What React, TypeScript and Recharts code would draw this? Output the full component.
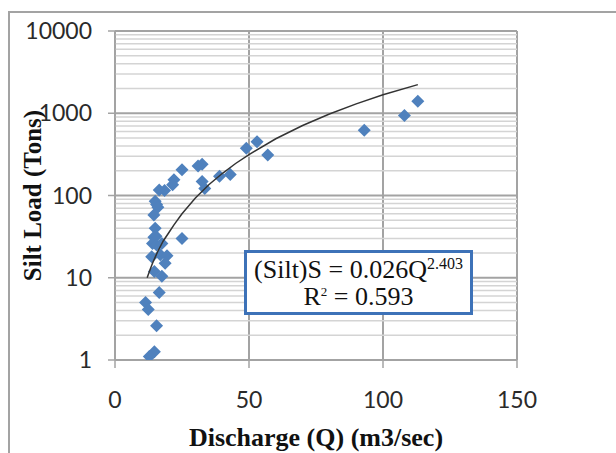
import { ScatterChart, Scatter, XAxis, YAxis, CartesianGrid, ReferenceLine } from 'recharts'

// observed points: discharge Q (m3/sec) and silt load S (tons)
const dischargeQ = [
  113, 108, 93, 57, 53, 49, 43, 39, 33.5, 32.5, 32.5, 31, 25, 22, 21.5, 18.5, 16.5,
  25, 15, 15.5, 16, 14.5, 15, 14.5, 15.3, 14, 15.5, 17.5, 13.7, 16.9, 19.4, 18.7,
  17.5, 14.7, 16.5, 11.4, 12.4, 15.5, 14.7, 12.8,
]
const siltLoad = [
  1400, 940, 620, 310, 450, 375, 180, 172, 122, 148, 240, 228, 205, 155, 135, 115, 117,
  30, 85, 78, 72, 58, 40, 31, 32, 26, 25, 26, 18, 19, 18.5, 15,
  10.4, 11.9, 6.6, 5, 4.1, 2.6, 1.26, 1.1,
]

// power trendline as drawn in the chart
const trendQ = [12, 13, 14, 15, 16, 18, 20, 22, 25, 30, 35, 40, 45, 50, 60, 70, 80, 90, 100, 113]
const trendS = [10, 12.3, 15, 17.8, 21, 28, 35, 44, 60, 93, 135, 185, 245, 315, 490, 710, 980, 1300, 1680, 2230]

const xTicks = [0, 50, 100, 150]
const yTicks = [1, 10, 100, 1000, 10000]
const minorSteps = [2, 3, 4, 5, 6, 7, 8, 9]
const minorY = yTicks.slice(0, -1).flatMap((d) => minorSteps.map((m) => d * m))

const points = dischargeQ.map((q, i) => ({ q, s: siltLoad[i] }))
const trend = trendQ.map((q, i) => ({ q, s: trendS[i] }))

const tickFont = { fontFamily: 'Lato', fontSize: 23, fill: '#2a2a2a' }

const Diamond = (p: any) => {
  const { cx, cy } = p
  if (cx == null || cy == null) return <g />
  const r = 6.5
  return (
    <polygon
      points={`${cx},${cy - r} ${cx + r},${cy} ${cx},${cy + r} ${cx - r},${cy}`}
      fill="#4F81BD"
    />
  )
}

export default function App() {
  return (
    <div style={{ position: 'absolute', left: 0, top: 0, width: 616, height: 453, overflow: 'hidden', background: '#fff' }}>
      <div style={{ position: 'absolute', left: 8, top: 11, width: 700, height: 600, border: '2px solid #a3a3a3' }} />
      <div style={{ position: 'absolute', left: 0, top: 0 }}>
        <ScatterChart width={616} height={453} margin={{ top: 31, right: 99, bottom: 8, left: 15 }}>
          <CartesianGrid stroke="#a3a3a3" strokeWidth={2} />
          {minorY.map((v) => (
            <ReferenceLine key={v} y={v} stroke="#d4d4d4" strokeWidth={1.5} />
          ))}
          <XAxis
            type="number"
            dataKey="q"
            domain={[0, 150]}
            ticks={xTicks}
            allowDataOverflow
            height={85}
            tickSize={8}
            tickMargin={24}
            stroke="#a3a3a3"
            strokeWidth={1.5}
            tick={tickFont}
            label={{
              content: ({ viewBox }: any) => (
                <text
                  x={viewBox.x + viewBox.width / 2}
                  y={viewBox.y + 86}
                  textAnchor="middle"
                  fontFamily="Liberation Serif"
                  fontWeight="bold"
                  fontSize={26}
                  fill="#111"
                >
                  Discharge (Q) (m3/sec)
                </text>
              ),
            }}
          />
          <YAxis
            type="number"
            dataKey="s"
            scale="log"
            domain={[1, 10000]}
            ticks={yTicks}
            allowDataOverflow
            width={100}
            tickSize={7}
            tickMargin={16}
            stroke="#a3a3a3"
            strokeWidth={1.5}
            tick={tickFont}
            label={{
              content: ({ viewBox }: any) => (
                <text
                  x={41}
                  y={viewBox.y + viewBox.height / 2}
                  transform={`rotate(-90 41 ${viewBox.y + viewBox.height / 2})`}
                  textAnchor="middle"
                  fontFamily="Liberation Serif"
                  fontWeight="bold"
                  fontSize={25}
                  fill="#111"
                >
                  Silt Load (Tons)
                </text>
              ),
            }}
          />
          <Scatter data={points} shape={Diamond} isAnimationActive={false} />
          <Scatter
            data={trend}
            shape={() => <g />}
            line={{ stroke: '#333', strokeWidth: 1.5 }}
            lineType="joint"
            isAnimationActive={false}
          />
        </ScatterChart>
      </div>
      <div
        style={{
          position: 'absolute',
          left: 244,
          top: 250,
          width: 223,
          height: 59,
          border: '3px solid #3d72b8',
          background: '#fff',
          fontFamily: 'Liberation Serif',
          color: '#111',
          textAlign: 'center',
          fontSize: 26,
        }}
      >
        <div style={{ marginTop: 3, height: 27, lineHeight: '27px' }}>
          (Silt)S = 0.026Q<span style={{ fontSize: 16, position: 'relative', top: -9 }}>2.403</span>
        </div>
        <div style={{ height: 27, lineHeight: '27px' }}>
          R<span style={{ fontSize: 13, position: 'relative', top: -9 }}>2</span> = 0.593
        </div>
      </div>
    </div>
  )
}
